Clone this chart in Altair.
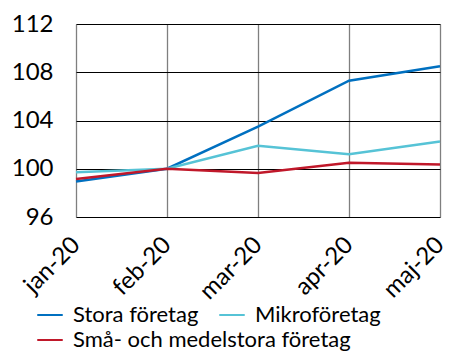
import altair as alt
import pandas as pd

months = ["jan-20", "feb-20", "mar-20", "apr-20", "maj-20"]
stora = [98.95, 100.0, 103.5, 107.3, 108.5]
mikro = [99.7, 100.0, 101.9, 101.2, 102.25]
sma = [99.15, 100.0, 99.65, 100.5, 100.35]
series_names = ["Stora företag", "Mikroföretag", "Små- och medelstora företag"]
colors = ["#0070C0", "#56C3D6", "#C0182A"]
y_ticks = [96, 100, 104, 108, 112]

rows = []
for name, vals in zip(series_names, [stora, mikro, sma]):
    for m, v in zip(months, vals):
        rows.append({"month": m, "value": v, "series": name})
df = pd.DataFrame(rows)

FONT = "Lato"

x_enc = alt.X("month:N", sort=months, scale=alt.Scale(type="point", padding=0),
              axis=alt.Axis(title=None, labelAngle=-45, labelAlign="right",
                            labelBaseline="middle", grid=True, gridColor="#7f7f7f",
                            gridWidth=1.3, ticks=False, domain=False, labelPadding=24,
                            labelFontSize=24, labelFont=FONT, labelColor="#000000"))
y_enc = alt.Y("value:Q", scale=alt.Scale(domain=[96, 112], nice=False, zero=False),
              axis=alt.Axis(title=None, values=y_ticks, grid=True, gridColor="#000000",
                            gridWidth=1, ticks=False, domain=False, labelPadding=23,
                            labelFontSize=24, labelFont=FONT, labelColor="#000000"))

legend_common = dict(title=None, orient="none", direction="horizontal",
                     symbolType="stroke", symbolSize=650, symbolStrokeWidth=2,
                     labelFontSize=22, labelFont=FONT, labelColor="#000000",
                     labelOffset=9, columnPadding=16, labelLimit=400, padding=0)

base1 = alt.Chart(df[df["series"] != series_names[2]]).mark_line(strokeWidth=2.5).encode(
    x=x_enc, y=y_enc,
    color=alt.Color("series:N", sort=series_names[:2],
                    scale=alt.Scale(domain=series_names[:2], range=colors[:2]),
                    legend=alt.Legend(legendX=-40, legendY=277, **legend_common)),
)
base2 = alt.Chart(df[df["series"] == series_names[2]]).mark_line(strokeWidth=2.5).encode(
    x=x_enc, y=y_enc,
    color=alt.Color("series:N",
                    scale=alt.Scale(domain=series_names[2:], range=colors[2:]),
                    legend=alt.Legend(legendX=-40, legendY=302, **legend_common)),
)

chart = alt.layer(base1, base2).resolve_scale(color="independent").properties(
    width=364, height=193,
    autosize=alt.AutoSizeParams(type="none"),
    padding={"left": 68, "top": 16, "right": 11, "bottom": 135},
).configure_view(stroke="#000000", strokeWidth=1.3).configure(background="#ffffff")

chart.save("out.html", embed_options={"renderer": "svg", "actions": False})
